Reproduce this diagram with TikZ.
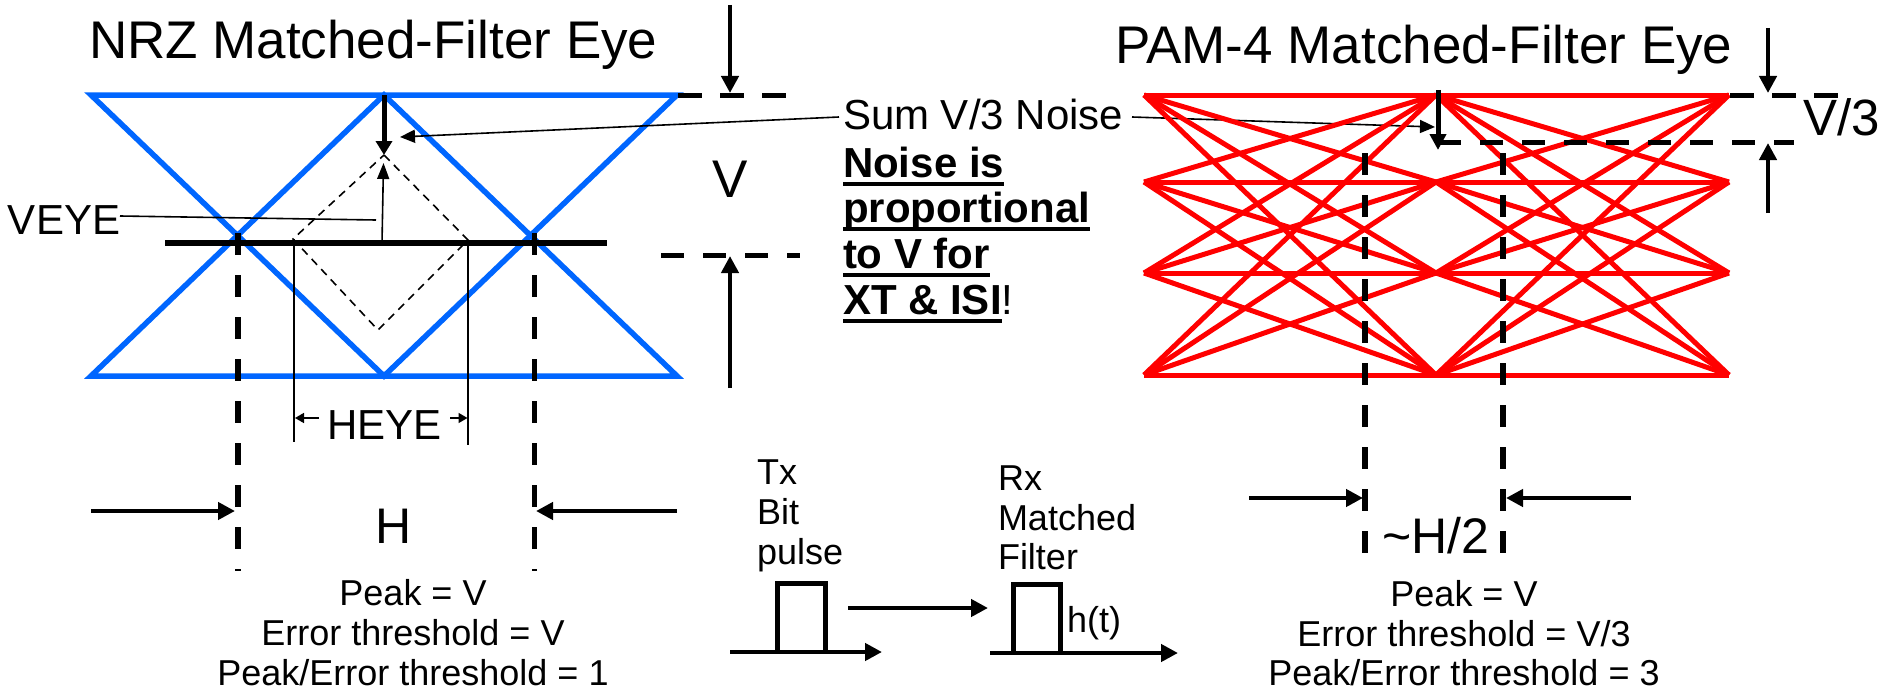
\documentclass[tikz,border=0pt]{standalone}
\usepackage{fontspec}
\setmainfont{Liberation Sans}
\usetikzlibrary{arrows.meta}
\definecolor{eyeblue}{RGB}{0,102,255}
\definecolor{eyered}{RGB}{255,0,0}
\newcommand\pxf[1]{\fontsize{#1}{#1}\selectfont}
\begin{document}
\begin{tikzpicture}[x=1pt,y=-1pt,
  blueline/.style={draw=eyeblue, line width=5.5pt, line join=miter},
  redline/.style={draw=eyered, line width=5pt},
  dashv/.style={line width=5.5pt, dash pattern=on 22pt off 20pt},
  dashh/.style={line width=5pt, dash pattern=on 24pt off 18pt},
  dashh2/.style={line width=5pt, dash pattern=on 23pt off 19pt},
  thinline/.style={line width=1.6pt},
  bigarrow/.style={line width=4.5pt, -{Triangle[length=17pt,width=17pt]}},
  thinarrow/.style={line width=1.6pt, -{Triangle[length=15pt,width=13pt]}},
  tinyarrow/.style={line width=1.6pt, -{Triangle[length=9pt,width=10pt]}},
  txt/.style={inner sep=0pt, outer sep=0pt},
  pulse/.style={line width=5pt, line join=miter},
]
\useasboundingbox (0,0) rectangle (1880,693);

% ---------- titles ----------
\node[txt, anchor=base west, font=\pxf{53}] (nrztitle) at (89,59) {NRZ Matched-Filter Eye};
\node[txt, anchor=base west, font=\pxf{53}] (pamtitle) at (1115,64) {PAM-4 Matched-Filter Eye};

% ---------- NRZ eye ----------
\coordinate (nL1) at (91,95);  \coordinate (nC1) at (384,95);  \coordinate (nR1) at (677,95);
\coordinate (nL2) at (91,376); \coordinate (nC2) at (384,376); \coordinate (nR2) at (677,376);
\draw[blueline] (nL1) -- (nR1) -- (nC2) -- cycle;
\draw[blueline] (nL2) -- (nR2) -- (nC1) -- cycle;

% threshold line
\coordinate (hL) at (165,243); \coordinate (hR) at (607,243);
\draw[line width=5.5pt] (hL) -- (hR);

% vertical dashed lines (H)
\coordinate (dvA1) at (238,233); \coordinate (dvA2) at (238,571);
\coordinate (dvB1) at (534.5,233); \coordinate (dvB2) at (534.5,571);
\draw[dashv] (dvA1) -- (dvA2);
\draw[dashv] (dvB1) -- (dvB2);

% dashed diamond
\coordinate (dmT) at (384,155); \coordinate (dmR) at (468,240);
\coordinate (dmB) at (378,330); \coordinate (dmL) at (293,239);
\draw[thinline, dash pattern=on 8pt off 6pt] (dmT) -- (dmR) -- (dmB) -- (dmL) -- cycle;

% HEYE
\coordinate (hv1a) at (294,239); \coordinate (hv1b) at (294,442);
\coordinate (hv2a) at (468,240); \coordinate (hv2b) at (468,445);
\draw[thinline] (hv1a) -- (hv1b);
\draw[thinline] (hv2a) -- (hv2b);
\node[txt, anchor=base, font=\pxf{42}] (heye) at (384.5,439) {HEYE};
\coordinate (heyeL) at (295,418); \coordinate (heyeR) at (467.5,418);
\coordinate (heyeLs) at (319,418); \coordinate (heyeRs) at (450,418);
\draw[tinyarrow] (heyeLs) -- (heyeL);
\draw[tinyarrow] (heyeRs) -- (heyeR);

% VEYE
\node[txt, anchor=base west, font=\pxf{42}] (veye) at (8,234) {VEYE};
\coordinate (veyeS) at (120,216); \coordinate (veyeE) at (376,220);
\draw[thinline] (veyeS) -- (veyeE);
\coordinate (veyeUp0) at (382,243); \coordinate (veyeUp1) at (383.5,163);
\draw[thinline, -{Triangle[length=16pt,width=12pt]}] (veyeUp0) -- (veyeUp1);

% noise arrow in NRZ
\draw[line width=5pt, -{Triangle[length=14pt,width=16pt]}] (nC1) -- (dmT);

% V dimension
\coordinate (vd1a) at (678,95);  \coordinate (vd1b) at (786,95);
\coordinate (vd2a) at (661,255); \coordinate (vd2b) at (800,255);
\draw[dashh] (vd1a) -- (vd1b);
\draw[dashh2] (vd2a) -- (vd2b);
\coordinate (va1) at (730,5);   \coordinate (va2) at (730,93);
\coordinate (va3) at (730,388); \coordinate (va4) at (730,256);
\draw[bigarrow] (va1) -- (va2);
\draw[bigarrow] (va3) -- (va4);
\node[txt, anchor=base, font=\pxf{53}] (vlabel) at (730,197) {V};

% ---------- centre texts ----------
\node[txt, anchor=base west, font=\pxf{42}] (sum) at (843,129) {Sum V/3 Noise};
\coordinate (sumL) at (839,117); \coordinate (sumR) at (1132,117);
\coordinate (nrzTip) at (400,137); \coordinate (pamTip) at (1435,127);
\draw[thinarrow] (sumL) -- (nrzTip);
\draw[thinarrow] (sumR) -- (pamTip);

\node[txt, anchor=base west, font=\bfseries\pxf{42}] (b1) at (843,177) {Noise is};
\node[txt, anchor=base west, font=\bfseries\pxf{42}] (b2) at (843,222) {proportional};
\node[txt, anchor=base west, font=\bfseries\pxf{42}] (b3) at (843,268) {to V for};
\node[txt, anchor=base west, font=\bfseries\pxf{42}] (b4) at (843,314) {XT \& ISI};
\node[txt, anchor=base west, font=\pxf{42}] (b5) at (b4.base east) {!};
\foreach \n in {b1,b2,b3,b4}{
  \draw[line width=4.5pt] ([yshift=-7pt]\n.base west) -- ([yshift=-7pt]\n.base east);
}

% ---------- PAM-4 eye ----------
\foreach \i/\yy in {1/95,2/182,3/273,4/375}{
  \coordinate (pL\i) at (1144,\yy);
  \coordinate (pC\i) at (1436,\yy);
  \coordinate (pR\i) at (1729,\yy);
}
\foreach \i in {1,2,3,4}{
  \foreach \j in {1,2,3,4}{
    \draw[redline] (pL\i) -- (pC\j);
    \draw[redline] (pC\i) -- (pR\j);
  }
}

% PAM dashed verticals
\coordinate (pdA1) at (1365,153); \coordinate (pdA2) at (1365,553);
\coordinate (pdB1) at (1503,153); \coordinate (pdB2) at (1503,553);
\draw[dashv] (pdA1) -- (pdA2);
\draw[dashv] (pdB1) -- (pdB2);

% PAM noise arrow and V/3 dimension
\coordinate (pn0) at (1438,90); \coordinate (pn1) at (1438,150);
\draw[line width=5pt, -{Triangle[length=16pt,width=16pt]}] (pn0) -- (pn1);
\coordinate (pd3a) at (1438,142); \coordinate (pd3b) at (1794,142);
\draw[dashh2] (pd3a) -- (pd3b);
\coordinate (pd4a) at (1730,95); \coordinate (pd4b) at (1838,95);
\draw[dashh] (pd4a) -- (pd4b);
\coordinate (pv1) at (1768,28);  \coordinate (pv2) at (1768,93);
\coordinate (pv3) at (1768,213); \coordinate (pv4) at (1768,143);
\draw[bigarrow] (pv1) -- (pv2);
\draw[bigarrow] (pv3) -- (pv4);
\node[txt, anchor=base west, font=\pxf{51}] (v3label) at (1803,135) {V/3};

% ---------- H dimensions ----------
\coordinate (ha1) at (91,511);  \coordinate (ha2) at (235,511);
\coordinate (ha3) at (677,511); \coordinate (ha4) at (536,511);
\draw[bigarrow] (ha1) -- (ha2);
\draw[bigarrow] (ha3) -- (ha4);
\node[txt, anchor=base, font=\pxf{50}] (hlabel) at (394,543) {H};

\coordinate (pa1) at (1249,498); \coordinate (pa2) at (1363,498);
\coordinate (pa3) at (1631,498); \coordinate (pa4) at (1506,498);
\draw[bigarrow] (pa1) -- (pa2);
\draw[bigarrow] (pa3) -- (pa4);
\node[txt, anchor=base, font=\pxf{50}] (h2label) at (1436,553) {\textasciitilde H/2};

% ---------- summary texts ----------
\node[txt, anchor=base, font=\pxf{36}] (nrzp1) at (413,605) {Peak = V};
\node[txt, anchor=base, font=\pxf{36}] (nrzp2) at (413,645) {Error threshold = V};
\node[txt, anchor=base, font=\pxf{36}] (nrzp3) at (413,685) {Peak/Error threshold = 1};
\node[txt, anchor=base, font=\pxf{36}] (pamp1) at (1464,606) {Peak = V};
\node[txt, anchor=base, font=\pxf{36}] (pamp2) at (1464,646) {Error threshold = V/3};
\node[txt, anchor=base, font=\pxf{36}] (pamp3) at (1464,685) {Peak/Error threshold = 3};

% ---------- Tx / Rx pulses ----------
\node[txt, anchor=base west, font=\pxf{36}] (tx1) at (757,484) {Tx};
\node[txt, anchor=base west, font=\pxf{36}] (tx2) at (757,524) {Bit};
\node[txt, anchor=base west, font=\pxf{36}] (tx3) at (757,564) {pulse};
\node[txt, anchor=base west, font=\pxf{36}] (rx1) at (998,490) {Rx};
\node[txt, anchor=base west, font=\pxf{36}] (rx2) at (998,530) {Matched};
\node[txt, anchor=base west, font=\pxf{36}] (rx3) at (998,569) {Filter};
\node[txt, anchor=base west, font=\pxf{36}] (ht) at (1067,632) {h(t)};

\coordinate (tax0) at (730,652); \coordinate (tax1) at (882,652);
\draw[bigarrow] (tax0) -- (tax1);
\coordinate (tp1) at (777,652); \coordinate (tp2) at (777,583);
\coordinate (tp3) at (825,583); \coordinate (tp4) at (825,652);
\draw[pulse] (tp1) -- (tp2) -- (tp3) -- (tp4);
\coordinate (mid0) at (848,608); \coordinate (mid1) at (988,608);
\draw[bigarrow] (mid0) -- (mid1);
\coordinate (rax0) at (990,653); \coordinate (rax1) at (1178,653);
\draw[bigarrow] (rax0) -- (rax1);
\coordinate (rp1) at (1013,653); \coordinate (rp2) at (1013,584);
\coordinate (rp3) at (1060,584); \coordinate (rp4) at (1060,653);
\draw[pulse] (rp1) -- (rp2) -- (rp3) -- (rp4);
\end{tikzpicture}
\end{document}
